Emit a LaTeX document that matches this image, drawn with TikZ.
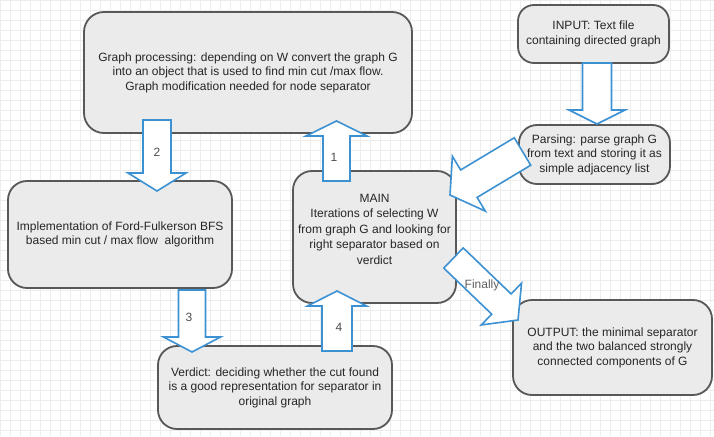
\documentclass[tikz,border=0pt]{standalone}
\usepackage{fontspec}
\setmainfont{Liberation Sans}
\usepackage{xcolor}
\usepackage{tikz}
\usetikzlibrary{arrows.meta,positioning,calc}

\definecolor{boxfill}{RGB}{235,235,235}
\definecolor{boxline}{RGB}{88,88,88}
\definecolor{arrowblue}{RGB}{60,145,210}

% block arrow from tail #2 to tip #3 (shaft half width, head half width, head length)
\newcommand\blockarrow[6][]{%
  \coordinate (hb) at ($(#3)!#6!(#2)$);
  \draw[barrow,#1] ($(#2)!#4!90:(#3)$) -- ($(hb)!#4!90:(#3)$) -- ($(hb)!#5!90:(#3)$) -- (#3)
    -- ($(hb)!#5!-90:(#3)$) -- ($(hb)!#4!-90:(#3)$) -- ($(#2)!#4!-90:(#3)$) -- cycle;}

\begin{document}
\begin{tikzpicture}[x=1pt, y=-1pt,
  box/.style={draw=boxline, fill=boxfill, line width=1.8pt, rounded corners=19pt, align=center, inner sep=0pt,
    font=\fontsize{12}{14.4}\selectfont, text=black!85},
  barrow/.style={draw=arrowblue, fill=white, line width=1.6pt, line join=miter},
  num/.style={font=\fontsize{12}{14}\selectfont, text=black!70}]
\useasboundingbox (0,0) rectangle (714,436);
\fill[white] (0,0) rectangle (714,436);
\draw[black!7, line width=0.5pt, step=10pt] (0,0) grid (714,436);

% boxes
\node[box, minimum width=328pt, minimum height=121pt, rounded corners=20pt] (gp) at (248,72.5)
  {Graph processing: depending on W convert the graph G\\ into an object that is used to find min cut /max flow.\\ Graph modification needed for node separator};
\node[box, minimum width=151pt, minimum height=58pt, rounded corners=16pt] (inp) at (593.5,34)
  {INPUT: Text file\\ containing directed graph};
\node[box, minimum width=151pt, minimum height=59pt, rounded corners=18pt] (parse) at (594.5,154.5)
  {Parsing: parse graph G\\ from text and storing it as\\ simple adjacency list};
\node[box, minimum width=163pt, minimum height=132pt, font=\fontsize{12}{15.6}\selectfont] (main) at (374.5,237)
  {MAIN\\ Iterations of selecting W\\ from graph G and looking for\\ right separator based on\\ verdict\\[0pt]};
\node[box, minimum width=224pt, minimum height=107pt] (impl) at (120,234.5)
  {Implementation of Ford-Fulkerson BFS\\ based min cut / max flow\ \ algorithm};
\node[box, minimum width=234pt, minimum height=83pt] (verd) at (275,387.5)
  {Verdict: deciding whether the cut found\\ is a good representation for separator in\\ original graph};
\node[box, minimum width=199pt, minimum height=95pt] (out) at (612.5,347.5)
  {OUTPUT: the minimal separator\\ and the two balanced strongly\\ connected components of G};

% arrow ends
\coordinate (a2s) at (157,120);   \coordinate (a2e) at (157,191);
\coordinate (a1s) at (336.5,181); \coordinate (a1e) at (336.5,121);
\coordinate (a3s) at (192,290);   \coordinate (a3e) at (192,352);
\coordinate (a4s) at (337,351);   \coordinate (a4e) at (337,291);
\coordinate (ins) at (597,63);    \coordinate (ine) at (597,124);
\coordinate (ps) at (522.5,151.5);\coordinate (pe) at (450,195);
\coordinate (fs) at (453.5,258);  \coordinate (fe) at (518,320);

\blockarrow{a2s}{a2e}{14pt}{29pt}{18pt}
\blockarrow{a1s}{a1e}{13.5pt}{30.5pt}{15pt}
\blockarrow{a3s}{a3e}{13.5pt}{28.5pt}{15pt}
\blockarrow{a4s}{a4e}{15pt}{29.5pt}{15pt}
\blockarrow{ins}{ine}{14.5pt}{28pt}{14pt}
\blockarrow{ps}{pe}{16pt}{32pt}{22pt}
\blockarrow{fs}{fe}{14pt}{29pt}{23pt}

% labels
\node[num] (n2) at (157,152) {2};
\node[num] (n1) at (334,157) {1};
\node[num] (n3) at (189,317) {3};
\node[num] (n4) at (339,327) {4};
\node[num, text=black!62] (fin) at (482,285) {Finally};
\end{tikzpicture}
\end{document}
